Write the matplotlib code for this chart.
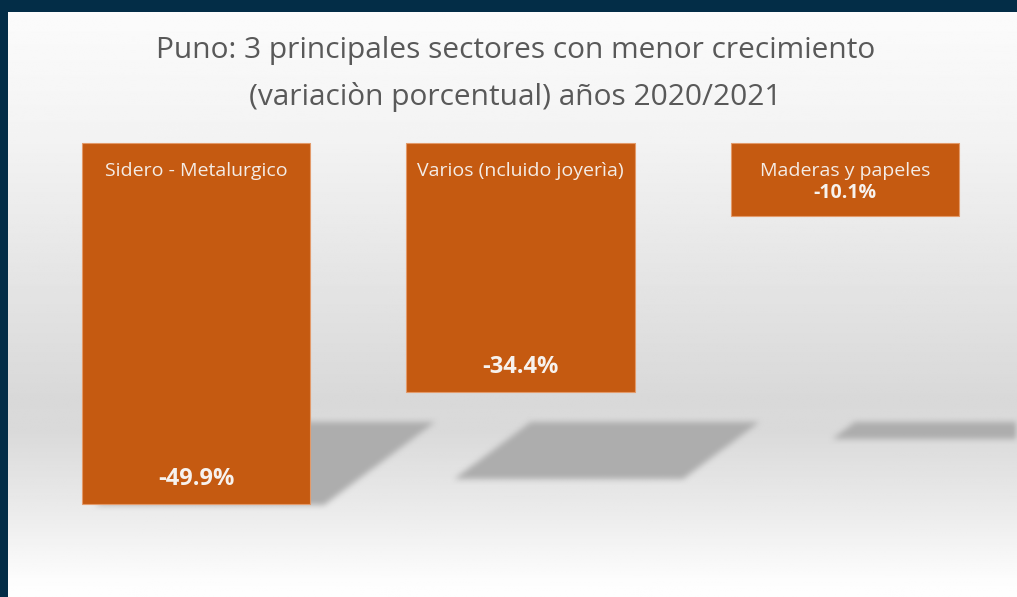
import numpy as np
import matplotlib.pyplot as plt
from matplotlib.path import Path

# =============================
# DATA
# =============================
sectores = ["Sidero - Metalurgico", "Varios (ncluido joyerìa)", "Maderas y papeles"]
variacion = [-49.9, -34.4, -10.1]
titulo = "Puno: 3 principales sectores con menor crecimiento\n(variaciòn porcentual) años 2020/2021"

BAR_COLOR = "#c55a11"
NAVY = "#032d47"
FONT = ["Open Sans", "DejaVu Sans"]

W, H = 1017, 597
fig = plt.figure(figsize=(W / 100, H / 100), dpi=100)
fig.patch.set_facecolor(NAVY)

# plot area (inside the navy frame)
ax = fig.add_axes([8 / W, 0, 1 - 8 / W, 1 - 12 / H])
ax.set_axis_off()

# scale: zero line at px 143 (from top), 7.23 px per percentage point
px_unit = 7.23
top_px, zero_px = 12, 143
ymax = (zero_px - top_px) / px_unit
ymin = -(H - zero_px) / px_unit
step = 324.5
x0_px = 196 - 8
xmin = -x0_px / step
xmax = (W - 8 - x0_px) / step
ax.set_xlim(xmin, xmax)
ax.set_ylim(ymin, ymax)

# =============================
# BACKGROUND GRADIENT
# =============================
rows = np.linspace(0, 1, 300)
stops_y = [0.0, 0.2, 0.66, 0.72, 0.85, 0.97, 1.0]
stops_v = [0.985, 0.955, 0.85, 0.855, 0.92, 0.99, 0.995]
shade = np.interp(rows, stops_y, stops_v)
grad = np.repeat(shade[:, None], 4, axis=1)
ax.imshow(grad, cmap="gray", vmin=0, vmax=1, aspect="auto",
          extent=[xmin, xmax, ymin, ymax], origin="upper", zorder=0)

# =============================
# SHADOWS ON THE FLOOR (blurred)
# =============================
floor = -(422 - zero_px) / px_unit
depth_k = 0.232
dx_top = 125 / step
dx_slope = 1.34 * px_unit / step
bw = 0.705

nx, ny = W - 8, H - 12
gx = np.linspace(xmin, xmax, nx)
gy = np.linspace(ymax, ymin, ny)
XX, YY = np.meshgrid(gx, gy)
grid_pts = np.column_stack([XX.ravel(), YY.ravel()])
mask = np.zeros(nx * ny)
for i, v in enumerate(variacion):
    d = depth_k * abs(v)
    dx_bot = dx_top - dx_slope * d
    pts = [(i - bw / 2 + dx_top, floor), (i + bw / 2 + dx_top, floor),
           (i + bw / 2 + dx_bot, floor - d), (i - bw / 2 + dx_bot, floor - d)]
    mask = np.maximum(mask, Path(pts).contains_points(grid_pts))
mask = mask.reshape(ny, nx)
k = np.ones(7) / 7
for _ in range(2):
    mask = np.apply_along_axis(lambda r: np.convolve(r, k, mode="same"), 1, mask)
    mask = np.apply_along_axis(lambda c: np.convolve(c, k, mode="same"), 0, mask)
shadow = np.zeros((ny, nx, 4))
shadow[..., :3] = 0.68
shadow[..., 3] = mask
ax.imshow(shadow, aspect="auto", extent=[xmin, xmax, ymin, ymax],
          origin="upper", zorder=1, interpolation="bilinear")

# =============================
# BARS
# =============================
x = np.arange(len(variacion))
ax.bar(x, variacion, width=bw, color=BAR_COLOR, edgecolor="#e39a6a",
       linewidth=0.8, zorder=3)

for i, (name, v) in enumerate(zip(sectores, variacion)):
    ax.annotate(name, (i, 0), xytext=(0, -28), textcoords="offset pixels",
                ha="center", va="center", color="#f4ece6", fontsize=14,
                family=FONT, zorder=4)
    lbl = f"{v:.1f}%"
    if abs(v) < 15:
        ax.annotate(lbl, (i, 0), xytext=(0, -50), textcoords="offset pixels",
                    ha="center", va="center", color="#f7f2ee", fontsize=14,
                    fontweight="bold", family=FONT, zorder=4)
    else:
        ax.annotate(lbl, (i, v), xytext=(0, 25), textcoords="offset pixels",
                    ha="center", va="center", color="#f7f2ee", fontsize=17,
                    fontweight="bold", family=FONT, zorder=4)

# =============================
# TITLE
# =============================
ax.text(0.5 * (xmin + xmax) + 0.01, ymax - 62 / px_unit, titulo,
        ha="center", va="center", color="#595959", fontsize=21.5,
        family=FONT, linespacing=1.75, zorder=4)

fig.savefig("out.png", dpi=100, facecolor=fig.get_facecolor())
